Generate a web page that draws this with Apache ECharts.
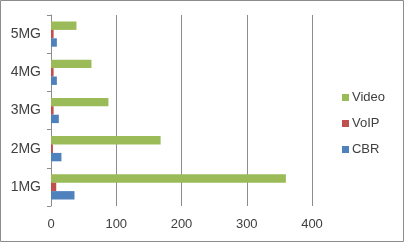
<!DOCTYPE html>
<html><head><meta charset="utf-8">
<script src="https://cdn.jsdelivr.net/npm/echarts@6/dist/echarts.min.js"></script>
<style>html,body{margin:0;padding:0;background:#fff}#c{width:404px;height:242px}</style>
</head><body><div id="c"></div>
<script>
const categories = ['1MG','2MG','3MG','4MG','5MG'];
const cbr = [36, 16, 12, 9, 9];
const voip = [8, 3, 4, 4, 4];
const video = [360, 168, 88, 62, 39];
const xTicks = [0, 100, 200, 300, 400];

const chart = echarts.init(document.getElementById('c'), null, {renderer:'canvas'});
const font = 'Liberation Sans, Arial, sans-serif';
chart.setOption({
  animation: false,
  graphic: [{type:'rect', shape:{x:0.5,y:0.5,width:403,height:241}, style:{fill:'none', stroke:'#8c8c8c', lineWidth:1}}],
  grid: {left:51, right:92, top:15, bottom:36},
  legend: {
    orient:'vertical', right:14, top:86, itemWidth:7, itemHeight:7, itemGap:13,
    data:['Video','VoIP','CBR'], icon:'rect',
    textStyle:{fontFamily:font, fontSize:13, color:'#404040', padding:[0,0,0,-2]}
  },
  xAxis: {
    type:'value', min:xTicks[0], max:xTicks[xTicks.length-1], interval:100,
    axisLine:{show:false}, axisTick:{show:false},
    splitLine:{show:true, lineStyle:{color:'#8c8c8c', width:1}},
    axisLabel:{fontFamily:font, fontSize:13, color:'#404040', margin:12}
  },
  yAxis: {
    type:'category', data:categories,
    axisLine:{show:true, lineStyle:{color:'#8c8c8c'}},
    axisTick:{show:true, length:4, lineStyle:{color:'#8c8c8c'}},
    axisLabel:{fontFamily:font, fontSize:14, color:'#404040', margin:10}
  },
  series: [
    {name:'Video', type:'bar', data:video, itemStyle:{color:'#9BBB59'}, barGap:'0%', barCategoryGap:'34%'},
    {name:'VoIP', type:'bar', data:voip, itemStyle:{color:'#C0504D'}},
    {name:'CBR', type:'bar', data:cbr, itemStyle:{color:'#4F81BD'}}
  ]
});
</script></body></html>
